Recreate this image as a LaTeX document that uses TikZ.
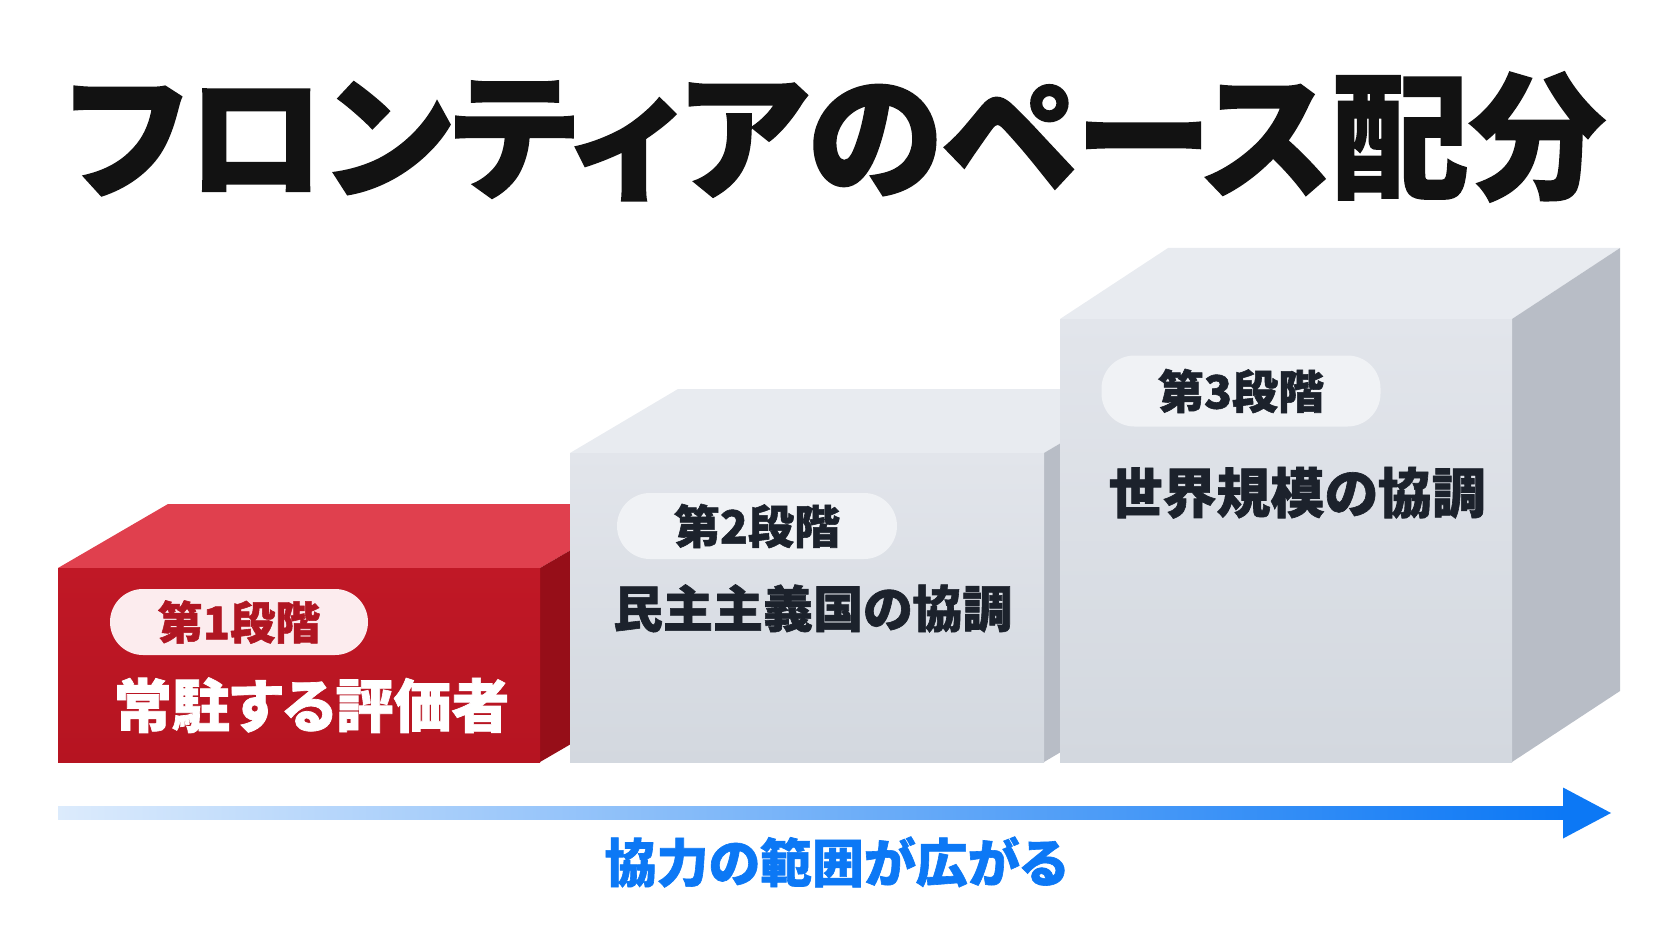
\documentclass[tikz,border=0pt]{standalone}
\usepackage{fontspec}
\setmainfont{Noto Sans CJK JP}[RawFeature=+palt, BoldFeatures={FakeBold=1.2}]
\usetikzlibrary{positioning}

\definecolor{redtop}{RGB}{224,64,78}
\definecolor{redside}{RGB}{150,14,24}
\definecolor{redfronta}{RGB}{192,24,38}
\definecolor{redfrontb}{RGB}{182,20,33}
\definecolor{graytop}{RGB}{232,235,240}
\definecolor{grayside}{RGB}{184,189,198}
\definecolor{grayfronta}{RGB}{226,229,235}
\definecolor{grayfrontb}{RGB}{211,216,223}
\definecolor{pillred}{RGB}{252,236,238}
\definecolor{pillgray}{RGB}{240,242,245}
\definecolor{stagered}{RGB}{176,22,34}
\definecolor{inkblue}{RGB}{28,34,44}
\definecolor{arrowpale}{RGB}{220,235,252}
\definecolor{arrowmid}{RGB}{80,155,245}
\definecolor{arrowblue}{RGB}{12,120,245}

\tikzset{
  stage/.style={rounded corners=33pt, minimum height=66pt, inner sep=0pt,
    font=\bfseries\fontsize{46}{46}\selectfont},
  goal/.style={inner sep=0pt, text=inkblue, font=\bfseries\fontsize{54}{54}\selectfont},
}

\begin{document}
\begin{tikzpicture}[x=1pt,y=-1pt]
\useasboundingbox (0,0) rectangle (1672,941);

\node[font=\bfseries\fontsize{137}{137}\selectfont, text=black!93] (title) at (836,137) {フロンティアのペース配分};

% blocks: left / right / top / depth x / depth y / colour
\foreach \xl/\xr/\yt/\dx/\dy/\col in {58/540/568/110/64/red, 570/1044/453/108/64/gray, 1060/1512/319/108/71/gray}{
  \fill[\col top] (\xl,\yt) -- ++(\dx,-\dy) -- (\xr+\dx,\yt-\dy) -- (\xr,\yt) -- cycle;
  \fill[\col side] (\xr,\yt) -- (\xr+\dx,\yt-\dy) -- (\xr+\dx,762-\dy) -- (\xr,762) -- cycle;
  \shade[top color=\col fronta, bottom color=\col frontb] (\xl,\yt) rectangle (\xr,762);
}

\node[stage, fill=pillred, text=stagered, minimum width=258pt, font=\bfseries\fontsize{45}{45}\selectfont] (p1) at (239,622) {第1段階};
\node[stage, fill=pillgray, text=inkblue, minimum width=280pt] (p2) at (757,526) {第2段階};
\node[stage, fill=pillgray, text=inkblue, minimum width=279pt, minimum height=71pt] (p3) at (1241,391) {第3段階};

\node[goal, text=white, font=\bfseries\fontsize{58}{58}\selectfont, below right=22pt and 4pt of p1.south west] (g1) {常駐する評価者};
\node[goal, font=\bfseries\fontsize{50}{50}\selectfont, below right=25pt and -4pt of p2.south west] (g2) {民主主義国の協調};
\node[goal, below right=40pt and 7pt of p3.south west] (g3) {世界規模の協調};

% widening arrow
\coordinate (tail) at (58,813);
\coordinate (head) at (1611,813);
\shade[left color=arrowpale, middle color=arrowmid, right color=arrowblue] ([yshift=6.5pt]tail) rectangle ([xshift=-47pt,yshift=-6.5pt]head);
\fill[arrowblue] ([xshift=-48pt,yshift=25.5pt]head) -- (head) -- ([xshift=-48pt,yshift=-25.5pt]head) -- cycle;

\node[font=\bfseries\fontsize{52}{52}\selectfont, text=arrowblue] (scope) at (836,862) {協力の範囲が広がる};
\end{tikzpicture}
\end{document}
